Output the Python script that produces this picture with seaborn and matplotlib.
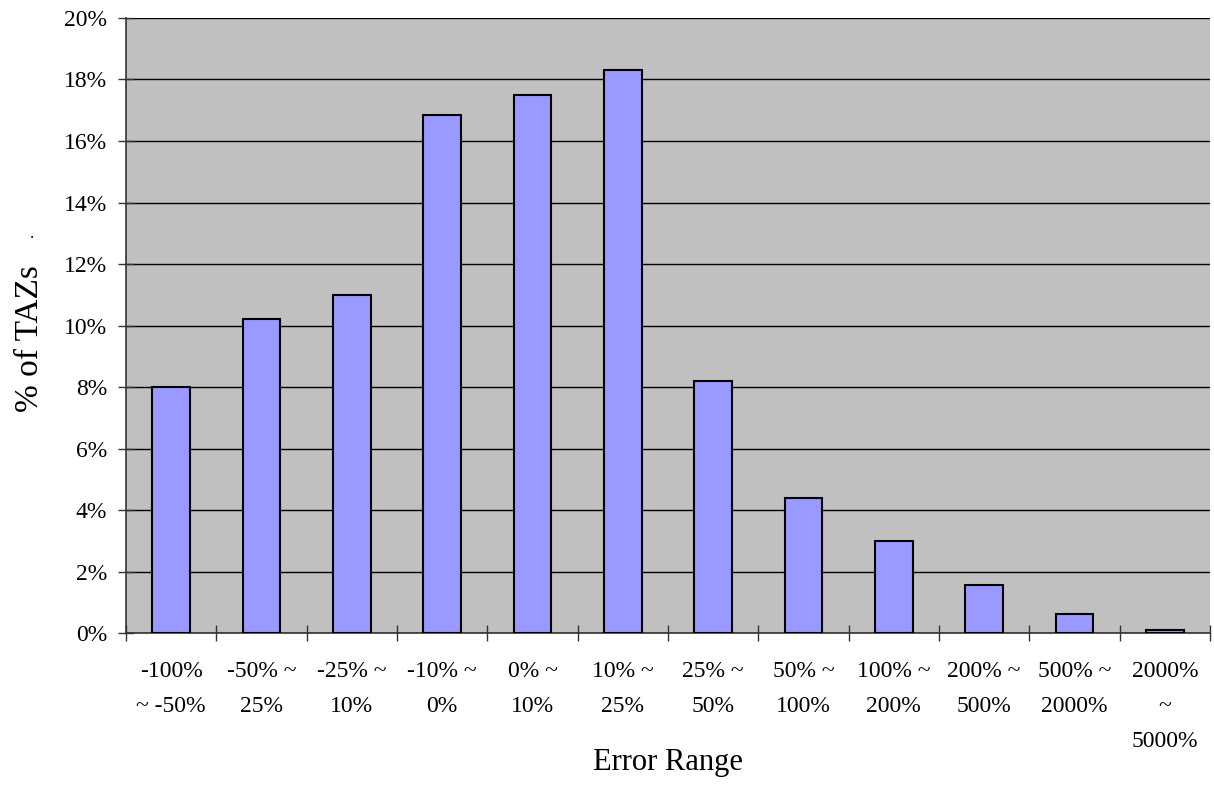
import numpy as np
import pandas as pd
import seaborn as sns
import matplotlib.pyplot as plt

# error range categories and share of TAZs (%)
ranges = ['-100%\n~ -50%', '-50% ~\n25%', '-25% ~\n10%', '-10% ~\n0%', '0% ~\n10%',
          '10% ~\n25%', '25% ~\n50%', '50% ~\n100%', '100% ~\n200%', '200% ~\n500%',
          '500% ~\n2000%', '2000%\n~\n5000%']
pct_taz = [8.0, 10.2, 11.0, 16.85, 17.5, 18.3, 8.2, 4.4, 2.98, 1.55, 0.62, 0.1]

df = pd.DataFrame({'range': ranges, 'pct': pct_taz})

sns.set_style('white')
plt.rcParams['font.family'] = ['Liberation Serif', 'DejaVu Serif']

fig = plt.figure(figsize=(12.14, 8.07), dpi=100)
ax = fig.add_axes([0.1038, 0.2156, 0.8929, 0.7621])
ax.set_facecolor('#c0c0c0')

sns.barplot(data=df, x='range', y='pct', color='#9999ff', saturation=1,
            edgecolor='black', linewidth=1.5, width=0.42, ax=ax, zorder=3)

ax.set_ylim(0, 20)
ax.set_xlim(-0.5, len(ranges) - 0.5)
ax.set_yticks(np.arange(0, 21, 2))
ax.set_yticklabels([f'{v}%' for v in range(0, 21, 2)], fontsize=17, color='black')
ax.yaxis.grid(True, color='black', linewidth=1, zorder=1)
ax.set_axisbelow(True)

# category labels under the bars, ticks on the boundaries
ax.set_xticks(range(len(ranges)))
ax.set_xticklabels(ranges, fontsize=17, linespacing=1.87, va='top', color='black')
ax.tick_params(axis='x', which='major', bottom=True, length=0, pad=20)
ax.set_xticks(np.arange(-0.5, len(ranges)), minor=True)
ax.tick_params(axis='x', which='minor', bottom=True, direction='inout', length=11.5,
               width=1, color='#333333')
ax.tick_params(axis='y', left=True, direction='inout', length=11.5, width=1,
               color='#333333', pad=8)

for s in ['top', 'right']:
    ax.spines[s].set_visible(False)
ax.spines['left'].set_color('#333333')
ax.spines['bottom'].set_color('#333333')
ax.spines['left'].set_linewidth(1.2)
ax.spines['bottom'].set_linewidth(1.2)

ax.set_xlabel('Error Range', fontsize=22, color='black')
ax.xaxis.set_label_coords(0.5, -0.187)
ax.set_ylabel('% of TAZs', fontsize=24, va='center', color='black')
ax.yaxis.set_label_coords(-0.089, 0.478)
fig.text(0.025, 0.705, '.', fontsize=12, color='black')

plt.savefig('out.png', dpi=100)
